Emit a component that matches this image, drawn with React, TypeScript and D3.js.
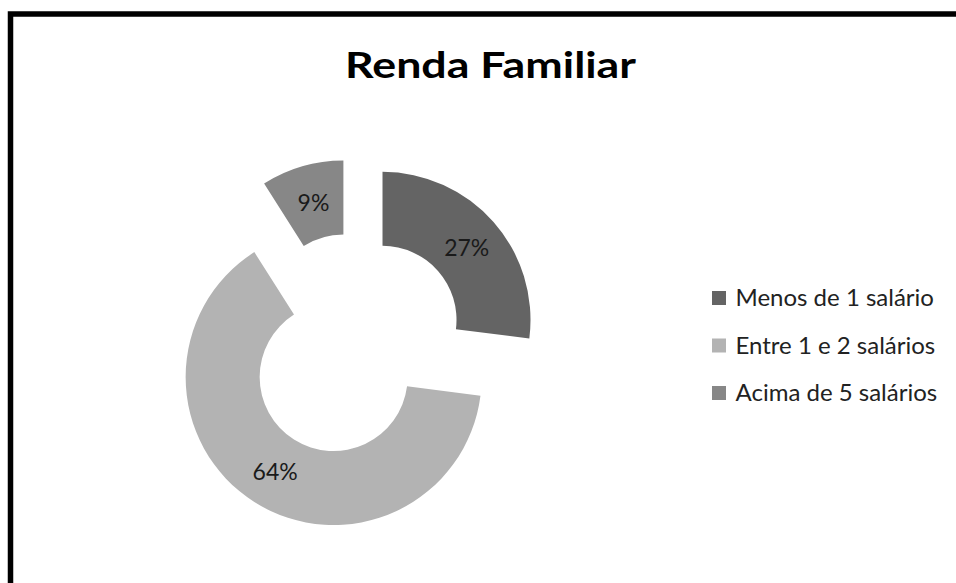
import React from "react";
import * as d3 from "d3";

const categories = ["Menos de 1 salário", "Entre 1 e 2 salários", "Acima de 5 salários"];
const values = [27, 64, 9];
const colors = ["#646464", "#b3b3b3", "#878787"];
const title = "Renda Familiar";

const W = 956;
const H = 583;

export default function App() {
  const cx = 354;
  const cy = 345;
  const outerR = 148;
  const innerR = 74;
  const explode = 38;
  const font = "Lato, 'Open Sans', sans-serif";

  const pie = d3.pie<number>().sort(null).startAngle(0).endAngle(2 * Math.PI);
  const arcs = pie(values);
  const arc = d3.arc<d3.PieArcDatum<number>>().innerRadius(innerR).outerRadius(outerR);
  const total = d3.sum(values);

  const legendY = d3.scalePoint<string>().domain(categories).range([306, 401]);

  return (
    <svg
      width={W}
      height={H}
      style={{ position: "absolute", left: 0, top: 0, background: "#fff" }}
    >
      <rect x={10.5} y={14} width={1200} height={800} fill="#fff" stroke="#000" strokeWidth={5.5} />
      <text
        x={490.5}
        y={77.5}
        textAnchor="middle"
        fontFamily={font}
        fontWeight="bold"
        fontSize={36}
        fill="#000"
        textLength={291}
        lengthAdjust="spacingAndGlyphs"
      >
        {title}
      </text>
      {arcs.map((a, i) => {
        const mid = (a.startAngle + a.endAngle) / 2;
        const dx = explode * Math.sin(mid);
        const dy = -explode * Math.cos(mid);
        const [lx, ly] = arc.centroid(a);
        return (
          <g key={i} transform={`translate(${cx + dx},${cy + dy})`}>
            <path d={arc(a) || ""} fill={colors[i]} />
            <text
              x={lx + 1}
              y={ly + 1}
              dy="0.36em"
              textAnchor="middle"
              fontFamily={font}
              fontSize={23}
              fill="#1a1a1a"
            >
              {Math.round((values[i] / total) * 100) + "%"}
            </text>
          </g>
        );
      })}
      {categories.map((c, i) => {
        const y = legendY(c) as number;
        return (
          <g key={c}>
            <rect x={712} y={y - 15} width={14} height={14} fill={colors[i]} />
            <text x={735.5} y={y} fontFamily={font} fontSize={24} fill="#222">
              {c}
            </text>
          </g>
        );
      })}
    </svg>
  );
}
